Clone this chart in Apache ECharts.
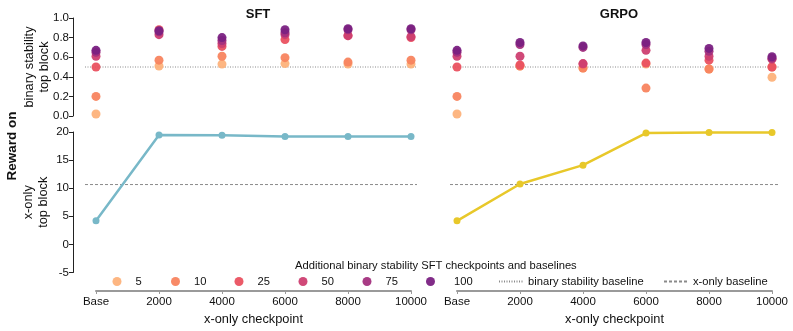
<!DOCTYPE html>
<html>
<head>
<meta charset="utf-8">
<script src="https://cdn.jsdelivr.net/npm/echarts@6/dist/echarts.min.js"></script>
<style>
  html, body { margin: 0; padding: 0; background: #fff; }
  #chart { width: 793px; height: 331px; }
</style>
</head>
<body>
<div id="chart"></div>
<script>
// checkpoints on x axis
var checkpoints = ['Base', '2000', '4000', '6000', '8000', '10000'];
// additional binary stability SFT checkpoints
var extraSteps = ['5', '10', '25', '50', '75', '100'];
var stepColors = ['#fdb27b', '#f8845f', '#ea5160', '#cd3f71', '#a3307e', '#7a2182'];

// binary stability top block, SFT column
var sftBin5 = [0.02, 0.51, 0.53, 0.535, 0.53, 0.53];
var sftBin10 = [0.20, 0.57, 0.61, 0.595, 0.55, 0.57];
var sftBin25 = [0.50, 0.88, 0.71, 0.78, 0.82, 0.80];
var sftBin50 = [0.61, 0.83, 0.74, 0.83, 0.82, 0.81];
var sftBin75 = [0.65, 0.86, 0.77, 0.85, 0.88, 0.88];
var sftBin100 = [0.67, 0.87, 0.80, 0.88, 0.89, 0.89];

// binary stability top block, GRPO column
var grpoBin5 = [0.02, 0.51, 0.49, 0.53, 0.48, 0.395];
var grpoBin10 = [0.20, 0.51, 0.49, 0.285, 0.48, 0.50];
var grpoBin25 = [0.50, 0.52, 0.53, 0.54, 0.57, 0.50];
var grpoBin50 = [0.61, 0.61, 0.535, 0.67, 0.61, 0.58];
var grpoBin75 = [0.65, 0.73, 0.70, 0.73, 0.66, 0.59];
var grpoBin100 = [0.67, 0.75, 0.715, 0.75, 0.69, 0.605];

// x-only top block
var sftReward = [4.2, 19.45, 19.4, 19.2, 19.2, 19.2];
var grpoReward = [4.2, 10.75, 14.1, 19.8, 19.9, 19.9];

// baselines
var binBaseline = 0.5;
var xonlyBaseline = 10.65;

var sftBin = [sftBin5, sftBin10, sftBin25, sftBin50, sftBin75, sftBin100];
var grpoBin = [grpoBin5, grpoBin10, grpoBin25, grpoBin50, grpoBin75, grpoBin100];

var FONT = '"Liberation Sans", Arial, Helvetica, sans-serif';

function pts(arr) {
  return arr.map(function (v, i) { return [i, v]; });
}

var chart = echarts.init(document.getElementById('chart'));

// grids: 0 SFT top, 1 SFT bottom, 2 GRPO top, 3 GRPO bottom, 4-7 wider baseline grids
var cols = [{ left: 96, bl: 85, bw: 332 }, { left: 457, bl: 450, bw: 329 }];
var topY = 18, topH = 98, botY = 132, botH = 140.5;
var grids = [], xAxes = [], yAxes = [];

cols.forEach(function (c) {
  grids.push({ left: c.left, top: topY, width: 315, height: topH });
  grids.push({ left: c.left, top: botY, width: 315, height: botH });
});
cols.forEach(function (c) {
  grids.push({ left: c.bl, top: topY, width: c.bw, height: topH });
  grids.push({ left: c.bl, top: botY, width: c.bw, height: botH });
});

for (var ci = 0; ci < 2; ci++) {
  var first = ci === 0;
  // top x axis (hidden)
  xAxes.push({ gridIndex: ci * 2, type: 'value', min: 0, max: 5, interval: 1, show: false });
  // bottom x axis
  xAxes.push({
    gridIndex: ci * 2 + 1, type: 'value', min: 0, max: 5, interval: 1,
    offset: 18.5,
    splitLine: { show: false },
    axisLine: { onZero: false, lineStyle: { color: '#9a9a9a', width: 2 } },
    axisTick: { length: 3, lineStyle: { color: '#9a9a9a' } },
    axisLabel: {
      color: '#111', fontSize: 11.5, fontFamily: FONT, margin: 5,
      formatter: function (v) { return checkpoints[v]; }
    },
    name: 'x-only checkpoint', nameLocation: 'middle', nameGap: 22,
    nameTextStyle: { color: '#111', fontSize: 12.8, fontFamily: FONT }
  });
  yAxes.push({
    gridIndex: ci * 2, type: 'value', min: 0, max: 1, interval: 0.2,
    show: first, offset: 23,
    splitLine: { show: false },
    axisLine: { show: true, onZero: false, lineStyle: { color: '#222', width: 1 } },
    axisTick: { show: true, length: 4, lineStyle: { color: '#222' } },
    axisLabel: {
      color: '#111', fontSize: 11.5, fontFamily: FONT, margin: 4,
      formatter: function (v) { return v.toFixed(1); }
    },
    name: 'binary stability\ntop block', nameLocation: 'middle', nameGap: 21, nameRotate: 90,
    nameMoveOverlap: false,
    nameTextStyle: { color: '#111', fontSize: 12.8, fontFamily: FONT, lineHeight: 15 }
  });
  yAxes.push({
    gridIndex: ci * 2 + 1, type: 'value', min: -5, max: 20, interval: 5,
    show: first, offset: 23,
    splitLine: { show: false },
    axisLine: { show: true, onZero: false, lineStyle: { color: '#222', width: 1 } },
    axisTick: { show: true, length: 4, lineStyle: { color: '#222' } },
    axisLabel: { color: '#111', fontSize: 11.5, fontFamily: FONT, margin: 4 },
    name: 'x-only\ntop block', nameLocation: 'middle', nameGap: 22, nameRotate: 90,
    nameMoveOverlap: false,
    nameTextStyle: { color: '#111', fontSize: 12.8, fontFamily: FONT, lineHeight: 15 }
  });
}
// baseline grids axes (hidden), indices 4..7
for (var k = 0; k < 4; k++) {
  xAxes.push({ gridIndex: 4 + k, type: 'value', min: 0, max: 1, show: false });
  yAxes.push(k % 2 === 0
    ? { gridIndex: 4 + k, type: 'value', min: 0, max: 1, show: false }
    : { gridIndex: 4 + k, type: 'value', min: -5, max: 20, show: false });
}

var series = [];
// baselines first so dots sit above
for (var b = 0; b < 2; b++) {
  series.push({
    name: 'binary stability baseline', type: 'line',
    xAxisIndex: 4 + b * 2, yAxisIndex: 4 + b * 2,
    data: [[0, binBaseline], [1, binBaseline]],
    symbol: 'none', silent: true,
    itemStyle: { color: '#8a8a8a' },
    lineStyle: { color: '#8a8a8a', width: 1, type: [1, 1.5] }
  });
  series.push({
    name: 'x-only baseline', type: 'line',
    xAxisIndex: 5 + b * 2, yAxisIndex: 5 + b * 2,
    data: [[0, xonlyBaseline], [1, xonlyBaseline]],
    symbol: 'none', silent: true,
    itemStyle: { color: '#8a8a8a' },
    lineStyle: { color: '#8a8a8a', width: 1, type: [3, 2] }
  });
}

[sftBin, grpoBin].forEach(function (group, gi) {
  group.forEach(function (arr, si) {
    series.push({
      name: extraSteps[si], type: 'scatter',
      xAxisIndex: gi * 2, yAxisIndex: gi * 2,
      data: pts(arr), symbolSize: 9, z: 3 + si,
      itemStyle: { color: stepColors[si], opacity: 0.95 }
    });
  });
});

series.push({
  name: 'SFT', type: 'line', xAxisIndex: 1, yAxisIndex: 1,
  data: pts(sftReward), symbol: 'circle', symbolSize: 7,
  lineStyle: { color: '#78b8c8', width: 2.5 }, itemStyle: { color: '#78b8c8' }
});
series.push({
  name: 'GRPO', type: 'line', xAxisIndex: 3, yAxisIndex: 3,
  data: pts(grpoReward), symbol: 'circle', symbolSize: 7,
  lineStyle: { color: '#e8c82a', width: 2.5 }, itemStyle: { color: '#e8c82a' }
});

// one legend box per entry, to place them like the reference
var legendLefts = [107.5, 166, 229.5, 293.5, 357.5, 421];
var legends = extraSteps.map(function (s, i) {
  return {
    data: [s], left: legendLefts[i], top: 271, icon: 'circle',
    itemWidth: 9, itemHeight: 9, selectedMode: false,
    textStyle: { color: '#111', fontSize: 11.2, fontFamily: FONT, padding: [0, 0, 0, i === 5 ? 14 : 9] }
  };
});
legends.push({
  data: ['binary stability baseline'], left: 493, top: 271,
  itemWidth: 24, itemHeight: 9, selectedMode: false,
  itemStyle: { opacity: 0 },
  textStyle: { color: '#111', fontSize: 11.2, fontFamily: FONT }
});
legends.push({
  data: ['x-only baseline'], left: 658, top: 271,
  itemWidth: 24, itemHeight: 9, selectedMode: false,
  itemStyle: { opacity: 0 },
  textStyle: { color: '#111', fontSize: 11.2, fontFamily: FONT }
});

chart.setOption({
  animation: false,
  textStyle: { fontFamily: FONT },
  title: [
    { text: 'SFT', left: 253, top: 3, textAlign: 'center',
      textStyle: { fontSize: 13, fontWeight: 'bold', color: '#111', fontFamily: FONT } },
    { text: 'GRPO', left: 614, top: 3, textAlign: 'center',
      textStyle: { fontSize: 13, fontWeight: 'bold', color: '#111', fontFamily: FONT } },
    { text: 'Additional binary stability SFT checkpoints and baselines', left: 290, top: 255,
      textStyle: { fontSize: 11.2, fontWeight: 'normal', color: '#111', fontFamily: FONT } }
  ],
  graphic: [{
    type: 'text', x: 5, y: 146, rotation: Math.PI / 2,
    style: {
      text: 'Reward on', fill: '#111', font: 'bold 13.5px ' + FONT,
      align: 'center', verticalAlign: 'top'
    }
  }],
  legend: legends,
  grid: grids,
  xAxis: xAxes,
  yAxis: yAxes,
  series: series
});
</script>
</body>
</html>
